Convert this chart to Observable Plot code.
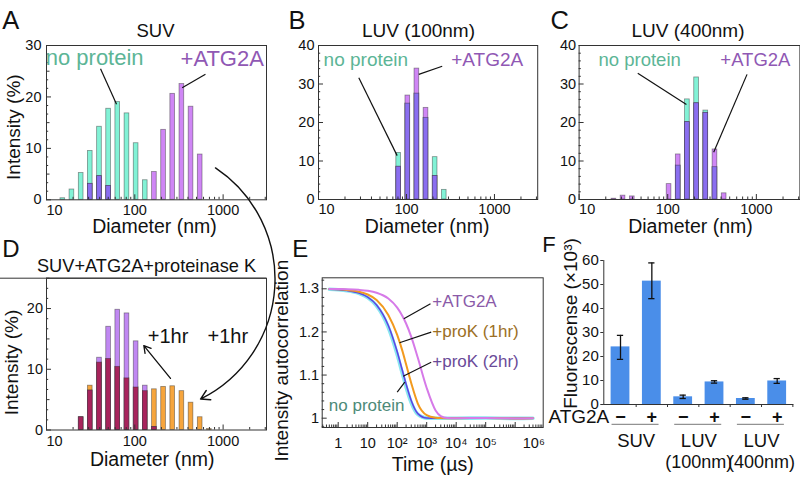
<!DOCTYPE html>
<html>
<head>
<meta charset="utf-8">
<script src="https://cdn.jsdelivr.net/npm/d3@7"></script>
<script src="https://cdn.jsdelivr.net/npm/@observablehq/plot@0.6"></script>
<style>
  html, body { margin: 0; padding: 0; background: #fff; }
  #fig { position: relative; width: 800px; height: 478px; overflow: hidden; background: #fff; }
  #fig svg { position: absolute; overflow: visible; }
</style>
</head>
<body>
<div id="fig"></div>
<script>
// ---------------- DATA ----------------
// DLS size bins (nm), shared by panels A–D
const binsNm = [15.3, 19.4, 24.7, 31.3, 39.8, 50.5, 64.1, 81.5, 103.5, 131.3, 166.7, 211.7, 268.7, 341.2, 433.2, 550, 698];
// Intensity (%) per bin
const suvNoProtein    = [0.3, 2.0, 5.2, 9.5, 14.2, 17.7, 19.0, 16.8, 11.0, 3.8, 0, 0, 0, 0, 0, 0, 0];
const suvAtg2a        = [0, 0, 0, 3.1, 4.6, 2.7, 0, 0, 0, 0, 5.4, 13.6, 20.6, 22.5, 18.1, 8.8, 0];
const luv100NoProtein = [0, 0, 0, 0, 0, 0, 0, 12.1, 24.9, 27.5, 21.2, 11.0, 2.5, 0, 0, 0, 0];
const luv100Atg2a     = [0, 0, 0, 0, 0, 0, 0, 8.5, 27.0, 34.0, 23.8, 6.1, 0, 0, 0, 0, 0];
const luv400NoProtein = [0, 0, 0, 0, 0, 0, 0, 0, 0, 8.8, 26.0, 31.7, 23.1, 8.4, 0, 0, 0];
const luv400Atg2a     = [0, 0, 0.2, 1.0, 0.8, 0, 0, 0, 4.0, 11.7, 20.1, 25.0, 22.5, 13.0, 1.6, 0, 0];
const proK1hr         = [0, 0, 2.1, 7.3, 11.1, 11.7, 10.4, 8.5, 7.0, 6.4, 6.7, 7.1, 7.2, 6.4, 4.5, 2.1, 0.15];
const proK2hr         = [0, 0, 2.1, 6.5, 11.9, 17.0, 19.8, 19.2, 14.6, 7.3, 0.5, 0, 0, 0, 0, 0, 0];

const xMajorTicks = [10, 100, 1000];
const xMinorTicks = [20, 30, 40, 50, 60, 70, 80, 90, 200, 300, 400, 500, 600, 700, 800, 900, 2000, 3000];

// Panel E: autocorrelation curves
const eTimes      = [0.5, 1, 2, 5, 10, 20, 50, 100, 150, 200, 300, 500, 1000, 2000, 3000, 5000, 10000, 100000, 1000000, 4000000];
const eNoProtein  = [1.2989, 1.2979, 1.2958, 1.2896, 1.2795, 1.2604, 1.2103, 1.1477, 1.1034, 1.0726, 1.0357, 1.0087, 1.0002, 1.0, 1.0, 1.0, 1.0, 1.0005, 0.9995, 1.0];
const eProK2hr    = [1.2990, 1.2980, 1.2960, 1.2902, 1.2807, 1.2626, 1.2150, 1.1540, 1.1104, 1.0791, 1.0406, 1.0107, 1.0004, 1.0, 1.0, 1.0, 1.0, 1.0005, 0.9995, 1.0];
const eProK1hr    = [1.2993, 1.2987, 1.2973, 1.2933, 1.2868, 1.2742, 1.2394, 1.1930, 1.1560, 1.1250, 1.0810, 1.0340, 1.0070, 1.0010, 1.0002, 1.0, 1.0, 1.0005, 0.9995, 1.0];
const eAtg2a      = [1.2998, 1.2995, 1.2991, 1.2976, 1.2953, 1.2907, 1.2773, 1.2563, 1.2370, 1.2195, 1.1885, 1.1400, 1.0700, 1.0180, 1.0050, 1.0005, 1.0, 1.0005, 0.9995, 1.0];
const eTickVals   = [1, 10, 100, 1000, 10000, 100000, 4280000];
const eTickLabels = ["1", "10", "10²", "10³", "10⁴", "10⁵", "10⁶"];
const eMajorTicks = [1, 10, 100, 1000, 10000, 100000, 1000000];
const eYTicks     = [1, 1.1, 1.2, 1.3];
const eYTickLabels= ["1", "1.1", "1.2", "1.3"];
const eYMinor     = [0.98, 1.02, 1.04, 1.06, 1.08, 1.12, 1.14, 1.16, 1.18, 1.22, 1.24, 1.26, 1.28, 1.32];

// Panel F: fluorescence
const fSigns   = ["−", "+", "−", "+", "−", "+"];
const fValues  = [24.0, 51.4, 3.2, 9.4, 2.5, 9.8];
const fErrLow  = [18.8, 44.1, 2.5, 8.9, 2.2, 8.8];
const fErrHigh = [28.8, 59.0, 3.9, 9.9, 2.8, 10.8];
const fGroups  = ["SUV", "LUV", "LUV"];
const fGroupSub= ["", "(100nm)", "(400nm)"];
const fYTicks  = [0, 10, 20, 30, 40, 50, 60];

// ---------------- STYLE / LAYOUT ----------------
const FONT = '"Liberation Sans", Arial, Helvetica, sans-serif';
const INK = "#333";
const BAR_HALF = 1.063;
const C_CYAN = "#82f2d6", C_PURP = "#cf86f5", C_OVL = "#8a6ef0";
const C_ORNG = "#f6a53d", C_PURP2 = "#c088f2", C_CRIM = "#a8245c";
const T_NP = "#5cb596", T_AT = "#9058b4";
const fig = document.getElementById("fig");
const baseStyle = {fontFamily: FONT, fontSize: "14.5px", background: "transparent", overflow: "visible", color: "#111"};

function mount(svg, left, top) {
  svg.style.position = "absolute";
  svg.style.left = left + "px";
  svg.style.top = top + "px";
  fig.appendChild(svg);
  return svg;
}

function histPanel(cfg) {
  const W = cfg.width - cfg.mL - cfg.mR;
  const H = cfg.height - cfg.mT - cfg.mB;
  const toRows = vals => binsNm.map((c, k) => ({lo: c / BAR_HALF, hi: c * BAR_HALF, v: vals[k]})).filter(d => d.v > 0);
  const r1 = toRows(cfg.s1), r2 = toRows(cfg.s2);
  const rOv = toRows(cfg.s1.map((v, k) => Math.min(v, cfg.s2[k])));
  const bar = {x1: "lo", x2: "hi", y1: 0, y2: "v", stroke: "#2b2b2b", strokeOpacity: 0.5, strokeWidth: 0.8};
  const marks = [
    Plot.rect(r1, {...bar, fill: cfg.c1}),
    Plot.rect(r2, {...bar, fill: cfg.c2}),
    Plot.rect(rOv, {...bar, fill: cfg.cOv}),
    Plot.ruleX(xMajorTicks, {insetTop: H - 5, stroke: INK}),
    Plot.ruleX(xMinorTicks, {insetTop: H - 2.5, stroke: INK}),
    Plot.ruleY(cfg.yMajor, {insetRight: W - 5, stroke: INK}),
    Plot.ruleY(cfg.yMid, {insetRight: W - 3.5, stroke: INK}),
    Plot.ruleY(cfg.yMinor, {insetRight: W - 2.2, stroke: INK}),
    Plot.frame({stroke: INK}),
    Plot.axisX({ticks: xMajorTicks.slice(0, 1), tickSize: 0, tickPadding: cfg.xPad, textAnchor: "start", tickFormat: d => String(d), label: null, fontSize: 14.5}),
    Plot.axisX({ticks: xMajorTicks.slice(1), tickSize: 0, tickPadding: cfg.xPad, tickFormat: d => String(d), label: null, fontSize: 14.5}),
    Plot.axisY({ticks: cfg.yMajor, tickSize: 0, tickPadding: cfg.yPad, tickFormat: d => String(d), label: null, fontSize: 14.5}),
    Plot.text(["Diameter (nm)"], {frameAnchor: "bottom", textAnchor: "middle", lineAnchor: "bottom", dx: cfg.xLabDx, dy: cfg.xLabDy, fontSize: 19.5, fill: "#111"}),
    Plot.text([cfg.letter], {frameAnchor: "top-left", textAnchor: "start", lineAnchor: "bottom", dx: cfg.letDx, dy: cfg.letDy, fontSize: cfg.letSize, fill: "#111"}),
    Plot.text([cfg.title], {frameAnchor: "top", textAnchor: "middle", lineAnchor: "bottom", dx: cfg.titDx, dy: cfg.titDy, fontSize: cfg.titSize, fill: "#111"})
  ];
  if (cfg.yLabel) marks.push(Plot.text([cfg.yLabel], {frameAnchor: "left", rotate: -90, textAnchor: "middle", lineAnchor: "bottom", dx: cfg.yLabDx, dy: cfg.yLabDy, fontSize: 19, fill: "#111"}));
  if (cfg.leaders) marks.push(Plot.link(cfg.leaders, {x1: "x1", y1: "y1", x2: "x2", y2: "y2", stroke: "#111", strokeWidth: 1.2}));
  if (cfg.arrows) marks.push(Plot.arrow(cfg.arrows, {x1: "x1", y1: "y1", x2: "x2", y2: "y2", stroke: "#111", strokeWidth: 1.3, headLength: 9}));
  if (cfg.notes) marks.push(Plot.text(cfg.notes, {x: "x", y: "y", text: "label", fill: "color", textAnchor: "middle", lineAnchor: "bottom", fontSize: cfg.noteSize}));
  if (cfg.extra) marks.push(...cfg.extra);
  return Plot.plot({
    width: cfg.width, height: cfg.height,
    marginLeft: cfg.mL, marginRight: cfg.mR, marginTop: cfg.mT, marginBottom: cfg.mB,
    x: {type: "log", domain: [10, 3100]},
    y: {domain: [0, cfg.yMax]},
    style: baseStyle,
    marks
  });
}

const yMinorThirds = [1.67, 3.33, 6.67, 8.33, 11.67, 13.33, 16.67, 18.33, 21.67, 23.33, 26.67, 28.33];
const yMinorTwos = [2, 4, 6, 8, 12, 14, 16, 18, 22, 24, 26, 28, 32, 34, 36, 38];

// Panel A
const A = {left: 0, top: 0};
const plotA = mount(histPanel({
  width: 270, height: 240, mL: 46, mR: 4, mT: 45, mB: 40.7,
  yMax: 30, yMajor: [0, 10, 20, 30], yMid: [5, 15, 25], yMinor: yMinorThirds,
  s1: suvNoProtein, s2: suvAtg2a, c1: C_CYAN, c2: C_PURP, cOv: C_OVL,
  xPad: 4.5, yPad: 5, xLabDx: -2, xLabDy: 32.7,
  letter: "A", letDx: -44.3, letDy: -17, letSize: 25.5,
  title: "SUV", titDx: -1, titDy: -8.3, titSize: 18.5,
  yLabel: "Intensity (%)", yLabDx: -26.5, yLabDy: 4.5,
  notes: [{x: 35.1, y: 26.2, label: "no protein", color: T_NP}, {x: 977, y: 26.0, label: "+ATG2A", color: T_AT}], noteSize: 22,
  leaders: [{x1: 40.9, y1: 25.5, x2: 62.1, y2: 18.6}, {x1: 631, y1: 24.4, x2: 344, y2: 21.8}]
}), A.left, A.top);

// Panel B
mount(histPanel({
  width: 270, height: 240, mL: 48, mR: 2.8, mT: 45, mB: 41,
  yMax: 40, yMajor: [0, 10, 20, 30, 40], yMid: [], yMinor: yMinorTwos,
  s1: luv100NoProtein, s2: luv100Atg2a, c1: C_CYAN, c2: C_PURP, cOv: C_OVL,
  xPad: 4.5, yPad: 4, xLabDx: -1, xLabDy: 33,
  letter: "B", letDx: -30, letDy: -17, letSize: 25.5,
  title: "LUV (100nm)", titDx: -9.6, titDy: -8.3, titSize: 19,
  notes: [{x: 34.5, y: 34.8, label: "no protein", color: T_NP}, {x: 826, y: 34.8, label: "+ATG2A", color: T_AT}], noteSize: 19,
  leaders: [{x1: 28.7, y1: 31.6, x2: 78.3, y2: 11.4}, {x1: 254.7, y1: 34.6, x2: 138, y2: 32.5}]
}), 270, 0);

// Panel C
mount(histPanel({
  width: 260, height: 240, mL: 38.6, mR: 0.6, mT: 45, mB: 41,
  yMax: 40, yMajor: [0, 10, 20, 30, 40], yMid: [], yMinor: yMinorTwos,
  s1: luv400NoProtein, s2: luv400Atg2a, c1: C_CYAN, c2: C_PURP, cOv: C_OVL,
  xPad: 4.5, yPad: 3, xLabDx: 1, xLabDy: 33,
  letter: "C", letDx: -28.6, letDy: -17, letSize: 25.5,
  title: "LUV (400nm)", titDx: -1.5, titDy: -8.3, titSize: 19,
  notes: [{x: 48.2, y: 34.8, label: "no protein", color: T_NP}, {x: 975, y: 34.8, label: "+ATG2A", color: T_AT}], noteSize: 18.5,
  leaders: [{x1: 45.9, y1: 32.8, x2: 162.5, y2: 24.7}, {x1: 785, y1: 32.5, x2: 330, y2: 12.3}]
}), 540, 0);

// Panel D
const D = {left: 0, top: 235};
const plotD = mount(histPanel({
  width: 270, height: 243, mL: 46, mR: 4, mT: 42.7, mB: 48.5,
  yMax: 25, yMajor: [0, 10, 20], yMid: [5, 15, 25], yMinor: [1.67, 3.33, 6.67, 8.33, 11.67, 13.33, 16.67, 18.33, 21.67, 23.33],
  s1: proK1hr, s2: proK2hr, c1: C_ORNG, c2: C_PURP2, cOv: C_CRIM,
  xPad: 6, yPad: 3.5, xLabDx: -4.3, xLabDy: 35.5,
  letter: "D", letDx: -44.3, letDy: -21, letSize: 24,
  title: "SUV+ATG2A+proteinase K", titDx: -10, titDy: -6, titSize: 18.2,
  yLabel: "Intensity (%)", yLabDx: -28.3, yLabDy: 8.4,
  notes: [{x: 237.7, y: 14.4, label: "+1hr", color: "#111"}, {x: 1130, y: 14.4, label: "+1hr", color: "#111"}], noteSize: 20,
  arrows: [{x1: 253.6, y1: 8.5, x2: 126.5, y2: 13.9}],
  extra: [Plot.ruleY([25], {insetLeft: -46, stroke: INK})]
}), D.left, D.top);

// Panel E
(function () {
  const width = 275, height = 243, mL = 51.7, mR = 2.3, mT = 42.3, mB = 51;
  const W = width - mL - mR, H = height - mT - mB;
  const curve = vals => eTimes.map((t, i) => ({t, g: vals[i]}));
  const eMinor = d3.scaleLog().domain([0.2868, 8.9e6]).ticks().filter(d => Math.abs(Math.log10(d) - Math.round(Math.log10(d))) > 1e-6);
  const eTickRows = eTickVals.map((t, i) => ({t, label: eTickLabels[i]}));
  const line = {x: "t", y: "g", curve: "monotone-x"};
  const svg = Plot.plot({
    width, height, marginLeft: mL, marginRight: mR, marginTop: mT, marginBottom: mB,
    x: {type: "log", domain: [0.2868, 8.9e6], axis: null},
    y: {domain: [0.9784, 1.3255]},
    style: baseStyle,
    marks: [
      Plot.line(curve(eNoProtein), {...line, stroke: "#8ae6f0", strokeWidth: 3.6}),
      Plot.line(curve(eProK2hr), {...line, stroke: "#5b45e6", strokeWidth: 1.6}),
      Plot.line(curve(eProK1hr), {...line, stroke: "#f29a1e", strokeWidth: 2}),
      Plot.line(curve(eAtg2a), {...line, stroke: "#d67ae8", strokeWidth: 2}),
      Plot.ruleX(eMajorTicks, {insetTop: H - 5, stroke: INK}),
      Plot.ruleX(eMinor, {insetTop: H - 2.5, stroke: INK}),
      Plot.ruleY(eYTicks, {insetRight: W - 5, stroke: INK}),
      Plot.ruleY(eYMinor, {insetRight: W - 2.5, stroke: INK}),
      Plot.frame({stroke: INK}),
      Plot.text(eTickRows, {x: "t", text: "label", frameAnchor: "bottom", textAnchor: "middle", lineAnchor: "top", dy: 10, fontSize: 14.5, fill: "#111"}),
      Plot.axisY({ticks: eYTicks, tickSize: 0, tickPadding: 3, tickFormat: d => eYTickLabels[eYTicks.indexOf(d)], label: null, fontSize: 14.5}),
      Plot.link([
        {x1: 1345, y1: 1.2652, x2: 167.5, y2: 1.2304},
        {x1: 1421, y1: 1.1994, x2: 119.7, y2: 1.1748},
        {x1: 1421, y1: 1.1298, x2: 159.7, y2: 1.0974},
        {x1: 100, y1: 1.0603, x2: 181, y2: 1.0834}
      ], {x1: "x1", y1: "y1", x2: "x2", y2: "y2", stroke: "#111", strokeWidth: 1.2}),
      Plot.text([
        {x: 1549, y: 1.2573, label: "+ATG2A", color: "#8a5aa8"},
        {x: 1549, y: 1.188, label: "+proK (1hr)", color: "#9c6f25"},
        {x: 1549, y: 1.118, label: "+proK (2hr)", color: "#6a4a98"},
        {x: 0.48, y: 1.0178, label: "no protein", color: "#4d8a78"}
      ], {x: "x", y: "y", text: "label", fill: "color", textAnchor: "start", lineAnchor: "bottom", fontSize: 17}),
      Plot.text(["Time (µs)"], {frameAnchor: "bottom", textAnchor: "middle", lineAnchor: "bottom", dy: 43, fontSize: 19.5, fill: "#111"}),
      Plot.text(["Intensity autocorrelation"], {frameAnchor: "left", rotate: -90, textAnchor: "middle", lineAnchor: "bottom", dx: -34, dy: 8, fontSize: 19, fill: "#111"}),
      Plot.text(["E"], {frameAnchor: "top-left", textAnchor: "start", lineAnchor: "bottom", dx: -30, dy: -20.6, fontSize: 24, fill: "#111"})
    ]
  });
  mount(svg, 270, 235);
})();

// Panel F
(function () {
  const width = 260, height = 243, mL = 63.3, mR = 6.7, mT = 25, mB = 74;
  const H = height - mT - mB;
  const rows = fValues.map((v, i) => ({i, v, lo: fErrLow[i], hi: fErrHigh[i], sign: fSigns[i]}));
  const groups = fGroups.map((g, k) => ({c: 2 * k + 0.5, a: 2 * k, b: 2 * k + 1, name: g, sub: fGroupSub[k]}));
  const svg = Plot.plot({
    width, height, marginLeft: mL, marginRight: mR, marginTop: mT, marginBottom: mB,
    x: {type: "linear", domain: [-0.533, 5.53], axis: null},
    y: {domain: [0, 60]},
    style: baseStyle,
    marks: [
      Plot.rect(rows, {x1: d => d.i - 0.3, x2: d => d.i + 0.3, y1: 0, y2: "v", fill: "#4a8ee9"}),
      Plot.ruleX(rows, {x: "i", y1: "lo", y2: "hi", stroke: "#111", strokeWidth: 1.3}),
      Plot.ruleY(rows, {y: "hi", x1: d => d.i - 0.1, x2: d => d.i + 0.1, stroke: "#111", strokeWidth: 1.3}),
      Plot.ruleY(rows, {y: "lo", x1: d => d.i - 0.1, x2: d => d.i + 0.1, stroke: "#111", strokeWidth: 1.3}),
      Plot.frame({anchor: "left", stroke: INK}),
      Plot.ruleY([0], {stroke: INK}),
      Plot.axisY({ticks: fYTicks, tickSize: 3, tickPadding: 2, tickFormat: d => String(d), label: null, fontSize: 15, stroke: INK}),
      Plot.ruleX(rows, {x: d => d.i + 0.5, insetTop: H, insetBottom: -3, stroke: INK}),
      Plot.text(rows, {x: "i", text: "sign", frameAnchor: "bottom", textAnchor: "middle", lineAnchor: "middle", dy: 12.7, fontSize: 18, fontWeight: "bold", fill: "#111"}),
      Plot.text(["ATG2A"], {frameAnchor: "bottom-left", textAnchor: "end", lineAnchor: "bottom", dx: 5.5, dy: 18.5, fontSize: 19, fill: "#111"}),
      Plot.ruleY(groups, {y: 0, x1: d => d.a - 0.27, x2: d => d.b + 0.23, dy: 19.8, stroke: "#777", strokeWidth: 1}),
      Plot.text(groups, {x: "c", text: "name", frameAnchor: "bottom", textAnchor: "middle", lineAnchor: "bottom", dy: 42, fontSize: 18.5, fill: "#111"}),
      Plot.text(groups, {x: "c", text: "sub", frameAnchor: "bottom", textAnchor: "middle", lineAnchor: "bottom", dy: 63, fontSize: 18, fill: "#111"}),
      Plot.text(["Fluorescense (×10³)"], {frameAnchor: "left", rotate: -90, textAnchor: "middle", lineAnchor: "bottom", dx: -26.6, dy: -9, fontSize: 19, fill: "#111"}),
      Plot.text(["F"], {frameAnchor: "top-left", textAnchor: "start", lineAnchor: "bottom", dx: -61.6, dy: -8.3, fontSize: 22, fill: "#111"})
    ]
  });
  mount(svg, 540, 235);
})();

// Cross-panel curved arrow: from panel A (+ATG2A sample) to panel D (+1hr)
const arrowFrom = {nm: 820, pct: 6.2};
const arrowTo = {nm: 555, pct: 5.1};
(function () {
  const ax = plotA.scale("x"), ay = plotA.scale("y");
  const dx = plotD.scale("x"), dy = plotD.scale("y");
  const seg = [{
    x1: A.left + ax.apply(arrowFrom.nm), y1: A.top + ay.apply(arrowFrom.pct),
    x2: D.left + dx.apply(arrowTo.nm), y2: D.top + dy.apply(arrowTo.pct)
  }];
  const svg = Plot.plot({
    width: 800, height: 478, margin: 0,
    x: {type: "identity"}, y: {type: "identity"},
    style: {...baseStyle, pointerEvents: "none"},
    marks: [Plot.arrow(seg, {x1: "x1", y1: "y1", x2: "x2", y2: "y2", bend: 60, stroke: "#111", strokeWidth: 1.4, headLength: 11})]
  });
  mount(svg, 0, 0);
})();
</script>
</body>
</html>
